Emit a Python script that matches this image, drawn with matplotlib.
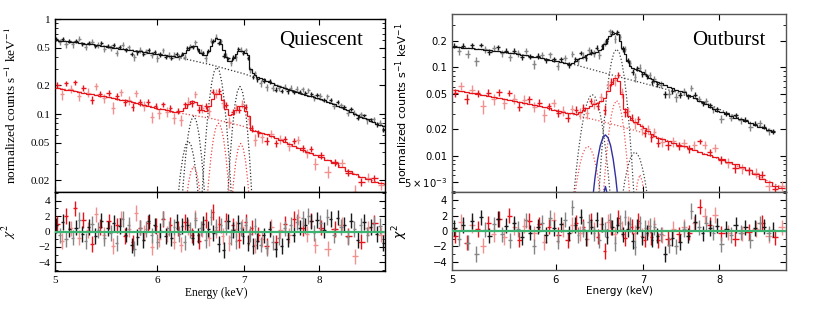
import numpy as np
import matplotlib
matplotlib.use("Agg")
import matplotlib.pyplot as plt
from matplotlib.ticker import FixedLocator, NullLocator, MultipleLocator, NullFormatter

# ================= QUIESCENT : black spectrum =================
qb_E = [5.01, 5.04, 5.07, 5.10, 5.13, 5.16, 5.19, 5.22, 5.25, 5.28, 5.31, 5.34, 5.37, 5.40,
        5.43, 5.46, 5.49, 5.52, 5.55, 5.58, 5.61, 5.64, 5.67, 5.70, 5.73, 5.76, 5.79, 5.82,
        5.85, 5.88, 5.91, 5.94, 5.97, 6.00, 6.03, 6.06, 6.09, 6.12, 6.15, 6.18,
        6.21, 6.24, 6.27, 6.30, 6.33, 6.36, 6.39, 6.42, 6.45, 6.48, 6.51, 6.54, 6.57, 6.60,
        6.63, 6.66, 6.69, 6.72, 6.75, 6.78, 6.81, 6.84, 6.87, 6.90, 6.93, 6.96, 6.99, 7.02,
        7.05, 7.08, 7.11, 7.14, 7.17,
        7.21, 7.25, 7.29, 7.33, 7.37, 7.41, 7.45, 7.49, 7.53, 7.57, 7.61, 7.65, 7.69, 7.73,
        7.77, 7.81, 7.85, 7.89, 7.93, 7.97,
        8.02, 8.07, 8.12, 8.17, 8.22, 8.27, 8.32, 8.37, 8.42, 8.47, 8.52, 8.57, 8.62, 8.67,
        8.72, 8.77, 8.82, 8.87, 8.92, 8.97]
qb_model = [0.598, 0.593, 0.588, 0.582, 0.577, 0.572, 0.567, 0.562, 0.556, 0.551, 0.546, 0.541,
            0.535, 0.530, 0.524, 0.518, 0.512, 0.506, 0.500, 0.494, 0.489, 0.484, 0.480, 0.475,
            0.471, 0.466, 0.462, 0.457, 0.451, 0.446, 0.441, 0.436, 0.430, 0.425, 0.421, 0.418,
            0.414, 0.410, 0.406, 0.403,
            0.402, 0.405, 0.416, 0.440, 0.474, 0.508, 0.525, 0.516, 0.482, 0.442, 0.416, 0.417,
            0.455, 0.521, 0.588, 0.626, 0.612, 0.550, 0.468, 0.398, 0.361, 0.362, 0.390, 0.431,
            0.462, 0.464, 0.455, 0.440, 0.420, 0.300, 0.270, 0.256, 0.246,
            0.238, 0.231, 0.224, 0.217, 0.210, 0.204, 0.198, 0.193, 0.187, 0.182, 0.177, 0.173,
            0.170, 0.166, 0.163, 0.159, 0.156, 0.153, 0.150, 0.147,
            0.144, 0.140, 0.135, 0.131, 0.126, 0.122, 0.118, 0.113, 0.109, 0.105, 0.101, 0.097,
            0.094, 0.091, 0.088, 0.085, 0.082, 0.079, 0.077, 0.074]
qb_resid = [0.8, -0.5, 1.2, -1.0, 0.3, -0.8, 0.5, 1.5, -0.3, -1.2, 0.6, 1.0, -0.6, 0.2, 1.4,
            -0.9, 0.4, -0.2, 1.1, -1.5, 0.7, 1.6, -0.4, 0.9, -1.8, -2.2, -0.7, 0.5, -1.1, 0.3,
            1.3, -0.5, 0.8, -1.3, 0.1, 1.7, -0.6, 0.4, -0.9, 0.6,
            1.2, -0.3, 0.7, -1.4, 0.9, 0.2, -0.8, 1.5, -0.5, 0.4, 1.0, -1.1, 0.3, 1.9, -0.2,
            0.6, -1.6, 0.8, -2.4, 0.5, 1.3, -0.7, 0.2, -1.2, 1.1, 0.4, -0.6, 0.9, -1.5, -0.3,
            -1.9, 0.7, -1.2,
            -1.7, -0.5, -2.1, 0.3, -1.4, -2.3, -0.8, -1.9, 0.4, -1.0, 0.9, -0.4, 1.2, 0.5, 1.7,
            0.8, 2.0, 1.3, -0.2, 1.5,
            1.1, 0.2, 1.9, 1.6, -0.5, 1.8, 0.6, 0.9, -0.7, 1.4, 0.3, -1.1, 0.8, 1.2, -0.4, 0.6,
            1.0, -0.3, 0.7, -1.5]
qb_relerr = [0.05, 0.07]

# ================= QUIESCENT : red spectrum =================
qr_E = [5.02, 5.06, 5.10, 5.14, 5.18, 5.22, 5.26, 5.30, 5.34, 5.38, 5.42, 5.46, 5.50, 5.54,
        5.58, 5.62, 5.66, 5.70, 5.74, 5.78, 5.82, 5.86, 5.90, 5.94, 5.98, 6.02, 6.06, 6.10,
        6.14, 6.18,
        6.22, 6.26, 6.30, 6.34, 6.38, 6.42, 6.46, 6.50, 6.54, 6.58, 6.62, 6.66, 6.70, 6.74,
        6.78, 6.82, 6.86, 6.90, 6.94, 6.98, 7.02, 7.06, 7.10, 7.14, 7.18,
        7.23, 7.29, 7.35, 7.41, 7.47, 7.53, 7.59, 7.65, 7.71, 7.77, 7.83, 7.89, 7.95,
        8.03, 8.13, 8.23, 8.33, 8.43, 8.53, 8.63, 8.73, 8.83, 8.93]
qr_model = [0.188, 0.185, 0.181, 0.177, 0.174, 0.170, 0.167, 0.164, 0.161, 0.158, 0.156, 0.153,
            0.150, 0.147, 0.144, 0.142, 0.139, 0.136, 0.134, 0.131, 0.128, 0.125, 0.122, 0.119,
            0.116, 0.114, 0.112, 0.109, 0.107, 0.105,
            0.105, 0.107, 0.115, 0.127, 0.136, 0.135, 0.123, 0.111, 0.108, 0.120, 0.1435, 0.163,
            0.161, 0.139, 0.113, 0.098, 0.0996, 0.111, 0.122, 0.120, 0.108, 0.095, 0.068, 0.067,
            0.065,
            0.0637, 0.0610, 0.0582, 0.0556, 0.0532, 0.0508, 0.0484, 0.0462, 0.0441, 0.0420,
            0.0402, 0.0388, 0.0373,
            0.0352, 0.0327, 0.0302, 0.0277, 0.0254, 0.0234, 0.0216, 0.0205, 0.0194, 0.0186]
qr_resid = [1.0, -1.2, 2.0, 0.4, 3.0, -0.8, 1.5, 0.2, -1.6, 2.2, 0.6, -0.4, 1.3, -1.9, 0.8,
            1.7, -0.6, 0.3, -1.4, 2.4, 0.5, -0.2, 1.1, -2.0, 0.7, -1.0, 1.6, -0.3, 0.9, -1.3,
            0.4, -1.7, 1.2, 0.6, -0.5, 1.8, -1.2, 0.3, 1.5, -0.9, 2.5, 0.2, 1.0, -0.6, 1.4,
            -1.5, 0.8, 0.3, -1.1, 0.6, 1.2, -0.7, 0.5, -1.8, -0.4,
            -1.0, -1.9, 0.6, -1.4, 0.2, 1.0, -0.5, 1.6, 1.9, 0.4, -0.3, 1.4, -1.8,
            0.5, -2.2, 0.3, 0.9, -0.6, -3.2, -1.3, 0.4, 1.1, -0.4]
qr_relerr = [0.08, 0.11]

# ================= OUTBURST : black spectrum =================
ob_E = [5.02, 5.06, 5.10, 5.14, 5.18, 5.22, 5.26, 5.30, 5.34, 5.38, 5.42, 5.46, 5.50, 5.54,
        5.58, 5.62, 5.66, 5.70, 5.74, 5.78, 5.82, 5.86, 5.90, 5.94, 5.98, 6.02, 6.06, 6.10,
        6.14, 6.18,
        6.21, 6.24, 6.27, 6.30, 6.33, 6.36, 6.39, 6.42, 6.45, 6.48, 6.51, 6.54, 6.57, 6.60,
        6.63, 6.66, 6.69, 6.72, 6.75, 6.78, 6.81, 6.84, 6.87, 6.90, 6.93, 6.96, 6.99, 7.02,
        7.05, 7.08, 7.11, 7.14, 7.17,
        7.22, 7.27, 7.32, 7.37, 7.42, 7.47, 7.52, 7.57, 7.62, 7.67, 7.72, 7.77, 7.82, 7.87,
        7.92, 7.97,
        8.03, 8.10, 8.17, 8.24, 8.31, 8.38, 8.45, 8.52, 8.59, 8.66, 8.73, 8.80]
ob_model = [0.170, 0.168, 0.166, 0.165, 0.163, 0.161, 0.159, 0.157, 0.155, 0.153, 0.151, 0.149,
            0.147, 0.145, 0.143, 0.141, 0.138, 0.136, 0.134, 0.131, 0.129, 0.126, 0.124, 0.121,
            0.119, 0.117, 0.115, 0.112, 0.108, 0.111,
            0.117, 0.123, 0.128, 0.132, 0.136, 0.140, 0.143, 0.146, 0.150, 0.155, 0.162, 0.185,
            0.208, 0.225, 0.240, 0.245, 0.236, 0.200, 0.165, 0.140, 0.118, 0.104, 0.098, 0.095,
            0.093, 0.091, 0.088, 0.084, 0.080, 0.076, 0.073, 0.070, 0.068,
            0.066, 0.063, 0.060, 0.058, 0.056, 0.054, 0.052, 0.049, 0.047, 0.045, 0.042, 0.040,
            0.038, 0.036, 0.034, 0.032,
            0.0310, 0.0295, 0.0282, 0.0270, 0.0258, 0.0247, 0.0236, 0.0225, 0.0214, 0.0204,
            0.0195, 0.0187]
ob_resid = [0.4, -1.0, 0.8, -1.5, 1.3, -3.0, 1.8, 0.2, -0.6, 0.9, 1.6, -0.4, 0.7, -1.2, 1.0,
            0.3, -0.8, 1.4, -0.2, -2.0, 0.6, 1.1, -0.5, 1.7, 0.4, -1.3, 0.9, 1.5, -0.3, 3.1,
            0.8, -0.5, 1.9, 0.3, -1.0, 1.2, 0.6, -0.3, 1.5, -1.2, 0.9, 0.2, -0.7, 1.4, 0.5,
            -1.6, 0.8, 1.1, -0.4, 1.8, 0.3, 0.9, -1.3, -2.1, 0.6, 1.0, -0.8, 0.4, -0.2, 0.7,
            -1.1, 0.5, -0.6,
            -0.4, -3.0, -1.8, -0.9, -2.0, -1.4, 0.3, -0.6, 2.6, 1.2, 0.5, -0.3, 1.0, 0.4, -0.2,
            0.7,
            -1.7, 0.3, -0.5, 0.8, -0.2, 0.5, -1.2, 0.4, 1.0, 0.6, -0.3, 0.2]
ob_relerr = [0.07, 0.09]

# ================= OUTBURST : red spectrum =================
or_E = [5.03, 5.08, 5.13, 5.18, 5.23, 5.28, 5.33, 5.38, 5.43, 5.48, 5.53, 5.58, 5.63, 5.68,
        5.73, 5.78, 5.83, 5.88, 5.93, 5.98, 6.03, 6.08, 6.13, 6.18,
        6.22, 6.26, 6.30, 6.34, 6.38, 6.42, 6.46, 6.50, 6.54, 6.58, 6.62, 6.66, 6.70, 6.74,
        6.78, 6.82, 6.86, 6.90, 6.94, 6.98, 7.02, 7.06, 7.10, 7.14, 7.18,
        7.24, 7.31, 7.38, 7.45, 7.52, 7.59, 7.66, 7.73, 7.80, 7.87, 7.94,
        8.03, 8.13, 8.23, 8.33, 8.43, 8.53, 8.63, 8.73, 8.83, 8.93]
or_model = [0.0547, 0.0533, 0.0519, 0.0506, 0.0493, 0.0481, 0.0470, 0.0459, 0.0448, 0.0437,
            0.0426, 0.0415, 0.0404, 0.0394, 0.0384, 0.0374, 0.0364, 0.0353, 0.0342, 0.0331,
            0.0319, 0.0313, 0.0307, 0.0302,
            0.0300, 0.0315, 0.0330, 0.0350, 0.0365, 0.0380, 0.0395, 0.0415, 0.0450, 0.0540,
            0.0650, 0.0760, 0.0700, 0.0500, 0.0340, 0.0280, 0.0255, 0.0240, 0.0228, 0.0218,
            0.0205, 0.0190, 0.0175, 0.0166, 0.0160,
            0.0155, 0.0147, 0.0140, 0.0134, 0.0128, 0.0122, 0.0116, 0.0110, 0.0105, 0.0101,
            0.0097,
            0.0092, 0.0086, 0.0080, 0.0075, 0.0069, 0.0062, 0.0055, 0.0050, 0.0046, 0.0043]
or_resid = [-0.6, 1.2, -1.5, 0.8, 0.3, -1.9, 1.0, -0.4, 1.6, -0.8, 2.0, 0.5, -1.1, 0.7, 1.3,
            -0.3, 0.9, -1.4, 0.6, 1.5, -0.5, 0.2, -1.2, 0.8,
            1.1, -0.3, 0.6, -1.0, 1.4, 0.2, -0.7, 0.9, -2.6, 1.2, 0.5, -0.4, 1.7, 0.3, -0.9,
            1.0, 0.6, -0.2, 1.3, -0.6, -1.1, 0.4, -0.8, 0.9, -1.2,
            -0.5, -1.0, 0.3, -0.4, 0.6, -0.2, 1.0, 3.2, 2.0, 0.8, 2.1,
            -0.3, -0.2, -1.0, -0.3, -0.1, 0.3, 1.1, -0.6, -0.8, 0.5]
or_relerr = [0.10, 0.13]

# ================= model components (dotted / blue) =================
q_black_cont_E = [5.0, 5.4, 5.8, 6.2, 6.6, 7.0, 7.4, 7.8, 8.2, 8.6, 9.0]
q_black_cont = [0.600, 0.530, 0.460, 0.400, 0.330, 0.265, 0.205, 0.160, 0.128, 0.095, 0.0735]
q_red_cont_E = [5.0, 5.4, 5.8, 6.2, 6.6, 7.0, 7.4, 7.8, 8.2, 8.6, 9.0]
q_red_cont = [0.190, 0.157, 0.130, 0.104, 0.090, 0.074, 0.056, 0.041, 0.031, 0.022, 0.018]

q_black_lines = [
    ([6.25, 6.28, 6.31, 6.34, 6.37, 6.40, 6.43, 6.46, 6.49, 6.52, 6.55],
     [0.0066, 0.0173, 0.0364, 0.0620, 0.0854, 0.095, 0.0854, 0.0620, 0.0364, 0.0173, 0.0066]),
    ([6.16, 6.19, 6.22, 6.25, 6.28, 6.31, 6.34, 6.37, 6.40, 6.43, 6.46, 6.49, 6.52],
     [0.0019, 0.0053, 0.0120, 0.0228, 0.0360, 0.0474, 0.052, 0.0474, 0.0360, 0.0228, 0.0120,
      0.0053, 0.0019]),
    ([6.46, 6.49, 6.52, 6.55, 6.58, 6.61, 6.64, 6.67, 6.70, 6.73, 6.76, 6.79, 6.82, 6.85, 6.88],
     [0.0034, 0.0115, 0.0313, 0.0713, 0.1358, 0.2148, 0.2827, 0.31, 0.2827, 0.2148, 0.1358,
      0.0713, 0.0313, 0.0115, 0.0034]),
    ([6.74, 6.77, 6.80, 6.83, 6.86, 6.89, 6.92, 6.95, 6.98, 7.01, 7.04, 7.07, 7.10, 7.13, 7.16],
     [0.0011, 0.0042, 0.0136, 0.0355, 0.0747, 0.1273, 0.1753, 0.195, 0.1753, 0.1273, 0.0747,
      0.0355, 0.0136, 0.0042, 0.0011]),
]
q_red_lines = [
    ([6.28, 6.31, 6.34, 6.37, 6.40, 6.43, 6.46, 6.49, 6.52],
     [0.0051, 0.0107, 0.0183, 0.0252, 0.028, 0.0252, 0.0183, 0.0107, 0.0051]),
    ([6.51, 6.54, 6.57, 6.60, 6.63, 6.66, 6.69, 6.72, 6.75, 6.78, 6.81, 6.84, 6.87],
     [0.0030, 0.0081, 0.0184, 0.0350, 0.0554, 0.0730, 0.080, 0.0730, 0.0554, 0.0350, 0.0184,
      0.0081, 0.0030]),
    ([6.81, 6.84, 6.87, 6.90, 6.93, 6.96, 6.99, 7.02, 7.05, 7.08, 7.11],
     [0.0034, 0.0089, 0.0188, 0.0320, 0.0441, 0.049, 0.0441, 0.0320, 0.0188, 0.0089, 0.0034]),
]

o_black_cont_E = [5.0, 5.4, 5.8, 6.2, 6.6, 7.0, 7.4, 7.8, 8.2, 8.6, 8.8]
o_black_cont = [0.171, 0.152, 0.130, 0.107, 0.083, 0.066, 0.053, 0.040, 0.0285, 0.0215, 0.019]
o_red_cont_E = [5.0, 5.4, 5.8, 6.2, 6.6, 7.0, 7.4, 7.8, 8.2, 8.6, 9.0]
o_red_cont = [0.0555, 0.0455, 0.0370, 0.0290, 0.0232, 0.0182, 0.0140, 0.0105, 0.0081, 0.0057,
              0.0042]

o_black_lines = [
    ([6.16, 6.19, 6.22, 6.25, 6.28, 6.31, 6.34, 6.37, 6.40, 6.43, 6.46, 6.49, 6.52, 6.55, 6.58,
      6.61, 6.64],
     [0.0014, 0.0032, 0.0066, 0.0122, 0.0201, 0.0297, 0.0392, 0.0464, 0.049, 0.0464, 0.0392,
      0.0297, 0.0201, 0.0122, 0.0066, 0.0032, 0.0014]),
    ([6.44, 6.47, 6.50, 6.53, 6.56, 6.59, 6.62, 6.65, 6.68, 6.71, 6.74, 6.77, 6.80, 6.83, 6.86,
      6.89, 6.92],
     [0.0010, 0.0032, 0.0090, 0.0216, 0.0445, 0.0779, 0.1162, 0.1477, 0.16, 0.1477, 0.1162,
      0.0779, 0.0445, 0.0216, 0.0090, 0.0032, 0.0010]),
    ([6.63, 6.66, 6.69, 6.72, 6.75, 6.78, 6.81, 6.84, 6.87, 6.90, 6.93, 6.96, 6.99, 7.02, 7.05,
      7.08, 7.11, 7.14, 7.17],
     [0.0003, 0.0006, 0.0012, 0.0022, 0.0036, 0.0054, 0.0073, 0.0092, 0.0105, 0.011, 0.0105,
      0.0092, 0.0073, 0.0054, 0.0036, 0.0022, 0.0012, 0.0006, 0.0003]),
]
o_red_lines = [
    ([6.11, 6.14, 6.17, 6.20, 6.23, 6.26, 6.29, 6.32, 6.35, 6.38, 6.41, 6.44, 6.47, 6.50, 6.53,
      6.56, 6.59],
     [0.0004, 0.0008, 0.0017, 0.0032, 0.0053, 0.0078, 0.0103, 0.0121, 0.0128, 0.0121, 0.0103,
      0.0078, 0.0053, 0.0032, 0.0017, 0.0008, 0.0004]),
    ([6.47, 6.50, 6.53, 6.56, 6.59, 6.62, 6.65, 6.68, 6.71, 6.74, 6.77, 6.80, 6.83, 6.86, 6.89],
     [0.0005, 0.0016, 0.0042, 0.0097, 0.0184, 0.0291, 0.0383, 0.042, 0.0383, 0.0291, 0.0184,
      0.0097, 0.0042, 0.0016, 0.0005]),
    ([6.84, 6.87, 6.90, 6.93, 6.96, 6.99, 7.02, 7.05, 7.08],
     [0.0003, 0.0012, 0.0030, 0.0051, 0.0061, 0.0051, 0.0030, 0.0012, 0.0003]),
]
o_blue_lines = [
    ([6.34, 6.37, 6.40, 6.43, 6.46, 6.49, 6.52, 6.55, 6.58, 6.61, 6.64, 6.67, 6.70, 6.73, 6.76],
     [0.00055, 0.0014, 0.0030, 0.0056, 0.0091, 0.0130, 0.0160, 0.0172, 0.0160, 0.0130, 0.0091,
      0.0056, 0.0030, 0.0014, 0.00055]),
    ([6.46, 6.49, 6.52, 6.55, 6.58, 6.61, 6.64],
     [0.00036, 0.0015, 0.0034, 0.0045, 0.0034, 0.0015, 0.00036]),
]

# ================= styling =================
BLACK_D, BLACK_L = "#1a1a1a", "#858585"
RED_D, RED_L = "#e8141c", "#f29090"
GREEN = "#3cb371"
BLUE = "#3030a0"
DOT = (0, (1, 1.6))


def draw_series(ax_top, ax_res, E, model, resid, relerr, dark, light, line_color):
    E = np.asarray(E, float)
    model = np.asarray(model, float)
    resid = np.asarray(resid, float)
    mids = (E[1:] + E[:-1]) / 2
    edges = np.concatenate([[2 * E[0] - mids[0]], mids, [2 * E[-1] - mids[-1]]])
    lo = E - edges[:-1]
    hi = edges[1:] - E
    idx = np.arange(len(E))
    rel = np.where(idx % 2 == 0, relerr[0], relerr[1])
    y = model * (1 + resid * rel)
    err = model * rel
    for parity, col in ((1, light), (0, dark)):
        m = idx % 2 == parity
        ax_top.errorbar(E[m], y[m], xerr=[lo[m], hi[m]], yerr=err[m], fmt="none",
                        ecolor=col, elinewidth=1.0, capsize=0, zorder=2)
        ax_res.errorbar(E[m], resid[m], xerr=[lo[m], hi[m]], yerr=1.0, fmt="none",
                        ecolor=col, elinewidth=1.0, capsize=0, zorder=2)
    ax_top.stairs(model, edges, color=line_color, lw=0.9, zorder=3, baseline=None)


fig = plt.figure(figsize=(8.3, 3.12), dpi=100)
axQt = fig.add_axes([0.0663, 0.3846, 0.3976, 0.5545])
axQb = fig.add_axes([0.0663, 0.1314, 0.3976, 0.2532])
axOt = fig.add_axes([0.5446, 0.3846, 0.4024, 0.5696])
axOb = fig.add_axes([0.5446, 0.1337, 0.4024, 0.2510])

# --- Quiescent ---
for cE, cy, col in ((q_black_cont_E, q_black_cont, "#333333"), (q_red_cont_E, q_red_cont, "#ee4444")):
    axQt.plot(cE, cy, ls=DOT, color=col, lw=0.9, zorder=1)
for le, ly in q_black_lines:
    axQt.plot(le, ly, ls=DOT, color="#333333", lw=0.9, zorder=1)
for le, ly in q_red_lines:
    axQt.plot(le, ly, ls=DOT, color="#ee4444", lw=0.9, zorder=1)
draw_series(axQt, axQb, qr_E, qr_model, qr_resid, qr_relerr, RED_D, RED_L, RED_D)
draw_series(axQt, axQb, qb_E, qb_model, qb_resid, qb_relerr, BLACK_D, BLACK_L, "#111111")

# --- Outburst ---
for cE, cy, col in ((o_black_cont_E, o_black_cont, "#444444"), (o_red_cont_E, o_red_cont, "#ee5555")):
    axOt.plot(cE, cy, ls=DOT, color=col, lw=0.9, zorder=1)
for le, ly in o_black_lines:
    axOt.plot(le, ly, ls=DOT, color="#444444", lw=0.9, zorder=1)
for le, ly in o_red_lines:
    axOt.plot(le, ly, ls=DOT, color="#ee5555", lw=0.9, zorder=1)
for le, ly in o_blue_lines:
    axOt.plot(le, ly, ls="-", color=BLUE, lw=1.0, zorder=1)
draw_series(axOt, axOb, or_E, or_model, or_resid, or_relerr, RED_D, RED_L, RED_D)
draw_series(axOt, axOb, ob_E, ob_model, ob_resid, ob_relerr, BLACK_D, BLACK_L, "#111111")

for ax in (axQb, axOb):
    ax.axhline(0, color=GREEN, lw=1.6, zorder=5)

# --- axes formatting ---
x_ticks = [5, 6, 7, 8]
x_labels = ["5", "6", "7", "8"]
q_yticks = [0.02, 0.05, 0.1, 0.2, 0.5, 1]
q_ylabels = ["0.02", "0.05", "0.1", "0.2", "0.5", "1"]
o_yticks = [0.005, 0.01, 0.02, 0.05, 0.1, 0.2]
o_ylabels = [r"$5\times10^{-3}$", "0.01", "0.02", "0.05", "0.1", "0.2"]

SERIF = "Liberation Serif"
SANS = "DejaVu Sans"

for ax_t, ax_b, yt, yl, ylim, fam, mfam, fs, yfs, spcol in (
        (axQt, axQb, q_yticks, q_ylabels, (0.0151, 1.0), SERIF, "stix", 8.0, 9.6, "#000000"),
        (axOt, axOb, o_yticks, o_ylabels, (0.0039, 0.396), SANS, "dejavusans", 7.2, 8.0, "#555555")):
    for ax in (ax_t, ax_b):
        ax.set_xscale("log")
        ax.set_xlim(5, 9)
        ax.xaxis.set_major_locator(FixedLocator(x_ticks))
        ax.xaxis.set_minor_locator(NullLocator())
        ax.tick_params(which="both", direction="in", top=True, right=True,
                       labelsize=fs, labelfontfamily=fam, colors="#000000")
        ax.tick_params(which="major", length=4, width=0.8)
        ax.tick_params(which="minor", length=2, width=0.6)
        for s in ax.spines.values():
            s.set_color(spcol)
            s.set_linewidth(1.0)
    ax_t.set_yscale("log")
    ax_t.set_ylim(*ylim)
    ax_t.set_yticks(yt, yl)
    ax_t.yaxis.set_minor_formatter(NullFormatter())
    ax_t.set_xticks(x_ticks, [""] * 4)
    ax_t.xaxis.set_minor_locator(NullLocator())
    ax_b.set_xticks(x_ticks, x_labels)
    ax_b.xaxis.set_minor_locator(NullLocator())
    ax_b.set_ylim(-5.1, 5.1)
    ax_b.set_yticks([-4, -2, 0, 2, 4], ["\u22124", "\u22122", "0", "2", "4"])
    ax_b.yaxis.set_minor_locator(MultipleLocator(1))
    ax_b.set_xlabel("Energy (keV)", family=fam, fontsize=fs + 0.3)
    ax_b.set_ylabel(r"$\chi^2$", math_fontfamily=mfam, fontsize=fs + 1.8)
    ax_t.set_ylabel(r"normalized counts s$^{-1}$ keV$^{-1}$", family=fam,
                    math_fontfamily=mfam, fontsize=yfs)

axQt.yaxis.set_label_coords(-0.108, 0.5)
axQb.yaxis.set_label_coords(-0.112, 0.5)
axOt.yaxis.set_label_coords(-0.125, 0.5)
axOb.yaxis.set_label_coords(-0.125, 0.5)
axQb.xaxis.set_label_coords(0.49, -0.2)
axOb.xaxis.set_label_coords(0.5, -0.2)

axQt.text(0.806, 0.875, "Quiescent", transform=axQt.transAxes, ha="center", va="center",
          family=SERIF, fontsize=15)
axOt.text(0.829, 0.855, "Outburst", transform=axOt.transAxes, ha="center", va="center",
          family=SERIF, fontsize=15)

fig.savefig("out.png", dpi=100)
